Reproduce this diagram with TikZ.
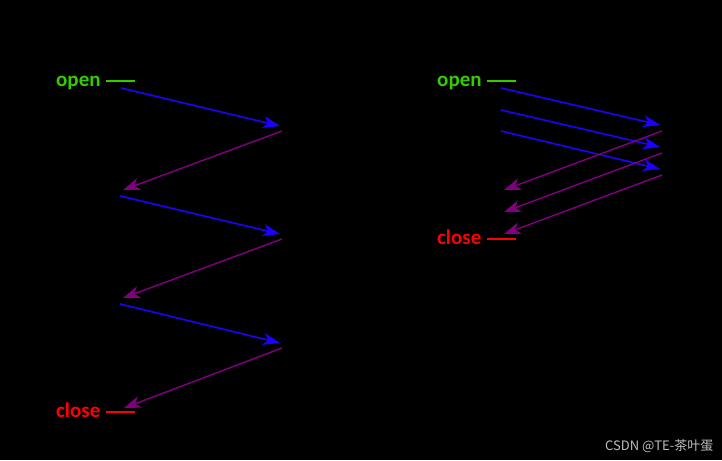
\documentclass[tikz,border=0pt]{standalone}
\usepackage{fontspec}
\setmainfont{Carlito}
\newfontfamily\cjk{Noto Sans CJK SC}
\usetikzlibrary{arrows.meta}
\definecolor{sendblue}{RGB}{30,0,255}
\definecolor{recvpurple}{RGB}{128,0,128}
\definecolor{opengreen}{RGB}{51,204,0}
\definecolor{closered}{RGB}{255,0,0}
\begin{document}
\begin{tikzpicture}[x=1pt,y=-1pt,
  lbl/.style={inner sep=0pt,anchor=base west,font=\bfseries\fontsize{21}{21}\selectfont},
  tick/.style={line width=2.2pt},
  snd/.style={draw=sendblue,line width=1.6pt,-{Stealth[length=17pt,width=12pt,inset=5pt]}},
  rcv/.style={draw=recvpurple,line width=1.4pt,-{Stealth[length=17pt,width=12pt,inset=5pt]}}]
\fill[black] (0,0) rectangle (722,460);
\useasboundingbox (0,0) rectangle (722,460);
% left
\node[lbl,text=opengreen] (lopen) at (56,86) {open};
\coordinate (lot1) at (106,81); \coordinate (lot2) at (135,81);
\draw[tick,opengreen] (lot1) -- (lot2);
\node[lbl,text=closered] (lclose) at (56,417) {close};
\coordinate (lct1) at (106,412); \coordinate (lct2) at (135,412);
\draw[tick,closered] (lct1) -- (lct2);
\coordinate (la1) at (121,88);  \coordinate (lb1) at (280,126);
\coordinate (lc1) at (282,131); \coordinate (ld1) at (123,190);
\coordinate (la2) at (120,196); \coordinate (lb2) at (280,234);
\coordinate (lc2) at (282,239); \coordinate (ld2) at (123,298);
\coordinate (la3) at (120,304); \coordinate (lb3) at (280,343);
\coordinate (lc3) at (282,348); \coordinate (ld3) at (124,408);
\draw[snd] (la1) -- (lb1);
\draw[rcv] (lc1) -- (ld1);
\draw[snd] (la2) -- (lb2);
\draw[rcv] (lc2) -- (ld2);
\draw[snd] (la3) -- (lb3);
\draw[rcv] (lc3) -- (ld3);
% right
\node[lbl,text=opengreen] (ropen) at (437,86) {open};
\coordinate (rot1) at (487,81); \coordinate (rot2) at (516,81);
\draw[tick,opengreen] (rot1) -- (rot2);
\node[lbl,text=closered] (rclose) at (437,244) {close};
\coordinate (rct1) at (487,239); \coordinate (rct2) at (516,239);
\draw[tick,closered] (rct1) -- (rct2);
\coordinate (ra1) at (501,88);  \coordinate (rb1) at (660,125);
\coordinate (ra2) at (501,110); \coordinate (rb2) at (660,147);
\coordinate (ra3) at (501,131); \coordinate (rb3) at (660,169);
\coordinate (rc1) at (662,131); \coordinate (rd1) at (504,190);
\coordinate (rc2) at (662,153); \coordinate (rd2) at (504,212);
\coordinate (rc3) at (662,175); \coordinate (rd3) at (504,234);
\draw[snd] (ra1) -- (rb1);
\draw[snd] (ra2) -- (rb2);
\draw[snd] (ra3) -- (rb3);
\draw[rcv] (rc1) -- (rd1);
\draw[rcv] (rc2) -- (rd2);
\draw[rcv] (rc3) -- (rd3);
% watermark
\node[inner sep=0pt,anchor=west,text={rgb,255:red,190;green,190;blue,190},font=\cjk\fontsize{13}{13}\selectfont] (wm) at (605,446) {CSDN @TE-茶叶蛋};
\end{tikzpicture}
\end{document}
